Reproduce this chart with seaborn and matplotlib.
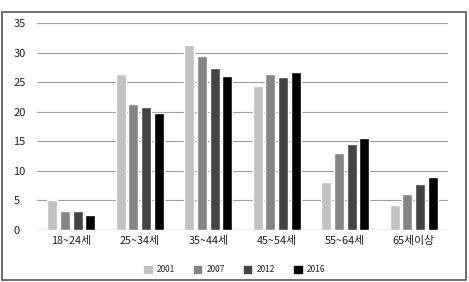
import matplotlib
matplotlib.use("Agg")
import matplotlib.pyplot as plt
import seaborn as sns
import pandas as pd
from matplotlib.patches import Rectangle

categories = ["18~24세", "25~34세", "35~44세", "45~54세", "55~64세", "65세이상"]
years = ["2001", "2007", "2012", "2016"]
v2001 = [5.0, 26.3, 31.2, 24.4, 8.2, 4.2]
v2007 = [3.2, 21.3, 29.5, 26.4, 13.0, 6.1]
v2012 = [3.2, 20.8, 27.4, 25.9, 14.6, 7.7]
v2016 = [2.6, 19.8, 26.0, 26.7, 15.5, 8.9]
colors = ["#c2c2c2", "#858585", "#444444", "#000000"]

rows = []
for y, vals in zip(years, [v2001, v2007, v2012, v2016]):
    for c, v in zip(categories, vals):
        rows.append({"cat": c, "year": y, "val": v})
df = pd.DataFrame(rows)

sns.set_style("white")
plt.rcParams["font.family"] = ["Noto Sans CJK KR", "DejaVu Sans"]

fig = plt.figure(figsize=(4.69, 2.82), dpi=100)
ax = fig.add_axes([37/469, 52/282, 411/469, 207/282])
sns.barplot(data=df, x="cat", y="val", hue="year", palette=colors,
            order=categories, hue_order=years, width=0.74, gap=0.2,
            ax=ax, legend=False, saturation=1)
ax.set_ylim(0, 35)
ax.set_yticks(range(0, 36, 5))
ax.set_xlim(-0.5, 5.5)
ax.yaxis.grid(True, color="#a0a0a0", linewidth=0.8)
ax.set_axisbelow(True)
for s in ax.spines.values():
    s.set_visible(False)
ax.axhline(0, color="#a0a0a0", linewidth=0.9, zorder=0.5)
ax.set_xlabel("")
ax.set_ylabel("")
ax.tick_params(axis="y", length=0, labelsize=8, colors="#222222", pad=17)
ax.tick_params(axis="x", length=0, labelsize=7.8, colors="#222222", pad=4)
for t in ax.get_yticklabels():
    t.set_horizontalalignment("left")

handles = [Rectangle((0, 0), 1, 1, color=c) for c in colors]
fig.legend(handles, years, loc="center", bbox_to_anchor=(0.5, 12/282),
           ncol=4, frameon=False, fontsize=6, handlelength=0.9,
           handleheight=0.9, columnspacing=2.3, handletextpad=0.6)

fig.add_artist(Rectangle((2/469, 2/282), 464/469, 268/282, transform=fig.transFigure,
                         fill=False, edgecolor="#555555", linewidth=1.2))
fig.savefig("out.png", dpi=100)
